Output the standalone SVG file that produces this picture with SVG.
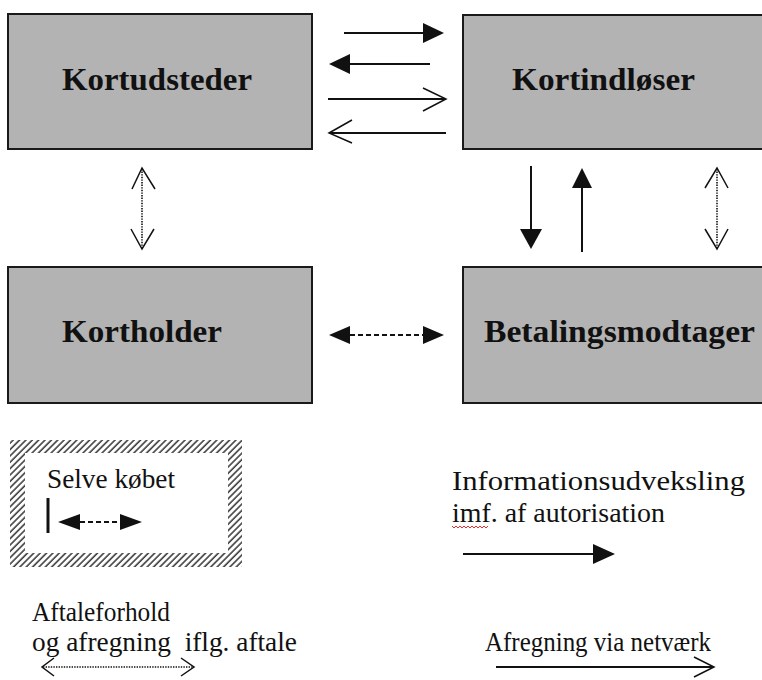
<svg xmlns="http://www.w3.org/2000/svg" width="762" height="680" viewBox="0 0 762 680">
<style>
.box{fill:#b3b3b3;stroke:#1a1a1a;stroke-width:2}
.lbl{font-family:"Liberation Serif",serif;font-weight:bold;font-size:31px;fill:#111}
.leg{font-family:"Liberation Serif",serif;font-size:27px;fill:#111}
.ln{stroke:#111;stroke-width:2;fill:none}
.dot{stroke:#111;stroke-width:1.6;stroke-dasharray:1.4 1.2;fill:none}
.dash{stroke:#111;stroke-width:2;stroke-dasharray:5 3;fill:none}
.open{stroke:#111;stroke-width:1.5;fill:none}
.head{fill:#111}
</style>
<defs>
<pattern id="hatch" patternUnits="userSpaceOnUse" width="4.5" height="4.5" patternTransform="rotate(45)">
<line x1="1" y1="0" x2="1" y2="4.5" stroke="#333" stroke-width="1.5"/>
</pattern>
</defs>
<rect width="762" height="680" fill="#fff"/>

<g id="kortudsteder"><rect class="box" x="8" y="14" width="304" height="135"/><text class="lbl" x="62" y="90" textLength="190" lengthAdjust="spacingAndGlyphs">Kortudsteder</text></g>
<g id="kortindloser"><rect class="box" x="463" y="15" width="310" height="134"/><text class="lbl" x="512" y="90" textLength="183" lengthAdjust="spacingAndGlyphs">Kortindløser</text></g>
<g id="kortholder"><rect class="box" x="8" y="267" width="304" height="136"/><text class="lbl" x="62" y="342" textLength="160" lengthAdjust="spacingAndGlyphs">Kortholder</text></g>
<g id="betalingsmodtager"><rect class="box" x="463" y="267" width="310" height="136"/><text class="lbl" x="484" y="342" textLength="271" lengthAdjust="spacingAndGlyphs">Betalingsmodtager</text></g>

<g id="connectors">
<line class="ln" x1="344" y1="33" x2="424" y2="33"/><polygon class="head" points="423,23 444,33 423,43"/>
<line class="ln" x1="430" y1="64" x2="349" y2="64"/><polygon class="head" points="350,54 329,64 350,74"/>
<line class="ln" x1="328" y1="99" x2="445" y2="99"/><polyline class="open" points="423,88 446,99 423,111"/>
<line class="ln" x1="446" y1="133" x2="330" y2="133"/><polyline class="open" points="352,120 329,133 352,143"/>

<line class="dot" x1="142" y1="169" x2="142" y2="248"/><polyline class="open" points="132,189 142,168 155,189"/><polyline class="open" points="131,229 142,249 154,229"/>

<line class="ln" x1="531" y1="166" x2="531" y2="230"/><polygon class="head" points="520,229 542,229 531,249"/>
<line class="ln" x1="582" y1="252" x2="582" y2="187"/><polygon class="head" points="572,188 592,188 582,168"/>

<line class="dot" x1="717" y1="169" x2="717" y2="248"/><polyline class="open" points="705,188 717,168 728,188"/><polyline class="open" points="705,229 717,249 728,229"/>

<line class="dash" x1="350" y1="335" x2="423" y2="335"/><polygon class="head" points="350,326 329,335 350,344"/><polygon class="head" points="423,326 444,335 423,344"/>
</g>

<g id="legend-kob">
<path d="M10,440H242V567H10Z M25,453V553H228V453Z" fill="url(#hatch)" fill-rule="evenodd"/>
<text class="leg" x="47" y="488" textLength="128" lengthAdjust="spacingAndGlyphs">Selve købet</text>
<line x1="48" y1="498" x2="48" y2="533" stroke="#111" stroke-width="3"/>
<line class="dash" x1="80" y1="522" x2="120" y2="522"/>
<polygon class="head" points="80,514 58,522 80,530"/><polygon class="head" points="120,514 142,522 120,530"/>
</g>

<g id="legend-info">
<text class="leg" x="452" y="490" textLength="293" lengthAdjust="spacingAndGlyphs">Informationsudveksling</text>
<text class="leg" x="452" y="522" textLength="213" lengthAdjust="spacingAndGlyphs">imf. af autorisation</text>
<path d="M452,526 l2,2 2,-2 2,2 2,-2 2,2 2,-2 2,2 2,-2 2,2 2,-2 2,2 2,-2 2,2 2,-2 2,2 2,-2 2,2 2,-2" stroke="#e03030" stroke-width="1" fill="none"/>
<line class="ln" x1="463" y1="554" x2="595" y2="554"/><polygon class="head" points="593,544 615,554 593,564"/>
</g>

<g id="legend-aftale">
<text class="leg" x="32" y="621" textLength="138" lengthAdjust="spacingAndGlyphs">Aftaleforhold</text>
<text class="leg" x="32" y="651" textLength="265" lengthAdjust="spacingAndGlyphs" xml:space="preserve">og afregning  iflg. aftale</text>
<line class="dot" x1="43" y1="667" x2="193" y2="667"/><polyline class="open" points="54,658 42,667 54,676"/><polyline class="open" points="181,658 194,667 181,676"/>
</g>

<g id="legend-netvaerk">
<text class="leg" x="485" y="651" textLength="226" lengthAdjust="spacingAndGlyphs">Afregning via netværk</text>
<line class="ln" x1="496" y1="667" x2="713" y2="667"/><polyline class="open" points="694,657 714,667 694,677"/>
</g>
</svg>
